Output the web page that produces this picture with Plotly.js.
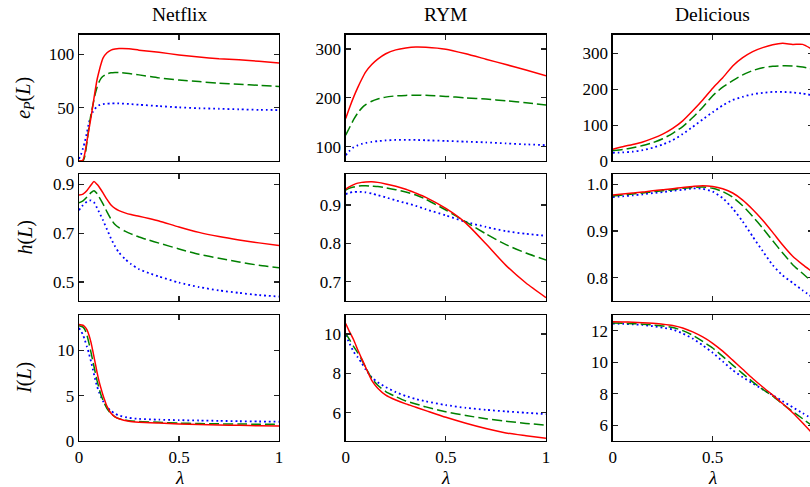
<!DOCTYPE html>
<html>
<head>
<meta charset="utf-8">
<script src="https://cdn.plot.ly/plotly-3.0.1.min.js"></script>
<style>
html,body{margin:0;padding:0;overflow:hidden;background:#fff;}
#chart{width:815px;height:487px;}
</style>
</head>
<body>
<div id="chart"></div>
<script>
// ---------- DATA ----------
const columnTitles = ['Netflix', 'RYM', 'Delicious'];
const rowLabels = ['<i>e</i><sub><i>P</i></sub>(<i>L</i>)', '<i>h</i>(<i>L</i>)', '<i>I</i>(<i>L</i>)'];
const xTickVals = [0, 0.5, 1];
const xTickText = ['0', '0.5', '1'];

// Netflix e_P(L)
const netflixEpX   = [0,0.01,0.02,0.03,0.04,0.05,0.06,0.07,0.08,0.09,0.1,0.11,0.12,0.14,0.16,0.18,0.2,0.25,0.3,0.4,0.5,0.6,0.7,0.8,0.9,1.0];
const netflixEpRed   = [0,0,1,8,19,30,41,53,65,76,84,91,96.5,101.5,104,105,105.5,105.3,104,102,99.5,97.5,96,95,93.5,92];
const netflixEpGreen = [0,0,0,5,18,32,44,53,62,69,74,77.5,79.5,81.8,82.7,83,83,82,80.8,78,76,74.5,73,72,71,70];
const netflixEpBlue  = [2,6,12,18.5,27,36,42,46.5,49,51,52.3,53,53.4,53.8,54,54,54,53.5,52.8,51.5,50.3,49.5,49,48.5,48,47.8];

// Netflix h(L)
const netflixHX     = [0,0.02,0.04,0.06,0.075,0.09,0.1,0.12,0.14,0.16,0.18,0.2,0.23,0.26,0.3,0.35,0.4,0.5,0.6,0.7,0.8,0.9,1.0];
const netflixHRed   = [0.856,0.86,0.875,0.897,0.911,0.9,0.89,0.865,0.838,0.815,0.801,0.792,0.783,0.776,0.769,0.76,0.75,0.725,0.703,0.686,0.672,0.66,0.649];
const netflixHGreen = [0.824,0.832,0.848,0.866,0.874,0.862,0.849,0.82,0.787,0.757,0.735,0.722,0.708,0.697,0.684,0.671,0.659,0.635,0.613,0.597,0.582,0.568,0.558];
const netflixHBlue  = [0.794,0.815,0.829,0.834,0.826,0.803,0.787,0.753,0.715,0.678,0.646,0.62,0.594,0.573,0.552,0.536,0.522,0.497,0.479,0.465,0.455,0.446,0.44];

// Netflix I(L)
const netflixIX     = [0,0.02,0.03,0.04,0.05,0.06,0.07,0.08,0.09,0.1,0.11,0.12,0.13,0.14,0.16,0.18,0.2,0.25,0.3,0.4,0.5,0.6,0.7,0.8,0.9,1.0];
const netflixIRed   = [12.9,12.8,12.6,12.3,11.7,10.9,9.85,8.75,7.6,6.6,5.8,5.05,4.4,3.8,3.05,2.65,2.44,2.15,2.05,1.95,1.86,1.8,1.74,1.7,1.66,1.62];
const netflixIGreen = [12.75,12.6,12.3,11.7,10.8,9.8,8.75,7.7,6.7,5.85,5.07,4.5,4.0,3.55,3.0,2.65,2.45,2.22,2.12,2.04,1.95,1.9,1.87,1.85,1.83,1.81];
const netflixIBlue  = [12.5,11.75,11.1,10.4,9.65,8.8,7.85,6.9,6.05,5.4,4.85,4.4,4.05,3.75,3.3,3.0,2.8,2.53,2.42,2.33,2.28,2.24,2.2,2.16,2.13,2.1];

// RYM
const rymX = [0,0.02,0.04,0.06,0.08,0.1,0.13,0.16,0.2,0.25,0.3,0.35,0.4,0.5,0.6,0.7,0.8,0.9,1.0];
const rymEpRed   = [158,181,202,221,238,253,268,279,290,298,302,304,303.5,299.5,290,279,268,257,245];
const rymEpGreen = [124,140,156,169,179,186,193,197.5,201.5,204,205,205.5,205.5,203,200,197.5,194,190,185.5];
const rymEpBlue  = [83,92,99,103,106,108,110,111.5,113,114,114,114,113.3,112,110.5,109,107,105,103.5];
const rymHRed    = [0.9415,0.948,0.953,0.957,0.959,0.96,0.9605,0.959,0.955,0.949,0.941,0.931,0.92,0.891,0.853,0.799,0.743,0.697,0.659];
const rymHGreen  = [0.939,0.944,0.947,0.949,0.95,0.95,0.949,0.948,0.945,0.94,0.934,0.926,0.915,0.887,0.856,0.825,0.797,0.775,0.757];
const rymHBlue   = [0.9286,0.932,0.934,0.9345,0.934,0.933,0.93,0.926,0.92,0.912,0.905,0.898,0.889,0.873,0.856,0.843,0.832,0.825,0.82];
const rymIRed    = [10.54,10.1,9.7,9.2,8.75,8.3,7.65,7.25,6.9,6.65,6.45,6.28,6.11,5.77,5.47,5.2,4.97,4.83,4.7];
const rymIGreen  = [10.04,9.7,9.36,9.05,8.7,8.3,7.75,7.4,7.08,6.82,6.6,6.45,6.3,6.05,5.86,5.7,5.57,5.46,5.37];
const rymIBlue   = [9.95,9.5,9.1,8.82,8.53,8.2,7.8,7.55,7.3,7.05,6.85,6.7,6.58,6.39,6.25,6.15,6.07,6.0,5.93];

// Delicious
const deliciousX = [0,0.05,0.1,0.15,0.2,0.25,0.3,0.35,0.4,0.45,0.5,0.55,0.6,0.65,0.7,0.75,0.8,0.85,0.9,0.95,1.0];
const deliciousEpRed   = [33,40,46,53,63,75,91,112,140,170,203,232,265,288,305,316,324,328,325,325,310];
const deliciousEpGreen = [29,32,37,43,51,62,77,96,121,150,182,206,224,240,252,260,264,265.5,265,262,256];
const deliciousEpBlue  = [23,24,26,30,37,46,58,75,95,116,136,155,170,179,186,190,192.5,192.5,191,188,183];
const deliciousHRed    = [0.977,0.979,0.981,0.983,0.986,0.988,0.99,0.993,0.995,0.9965,0.995,0.99,0.981,0.966,0.946,0.923,0.897,0.87,0.846,0.828,0.812];
const deliciousHGreen  = [0.9746,0.977,0.979,0.981,0.984,0.986,0.988,0.991,0.993,0.994,0.991,0.984,0.972,0.954,0.931,0.906,0.879,0.853,0.828,0.809,0.79];
const deliciousHBlue   = [0.9724,0.974,0.976,0.978,0.981,0.983,0.986,0.988,0.991,0.99,0.984,0.97,0.948,0.92,0.888,0.857,0.827,0.805,0.789,0.773,0.758];
const deliciousIRed    = [12.56,12.55,12.53,12.5,12.46,12.41,12.33,12.17,11.92,11.6,11.2,10.7,10.13,9.55,8.97,8.43,7.92,7.37,6.8,6.15,5.47];
const deliciousIGreen  = [12.49,12.47,12.44,12.41,12.36,12.29,12.2,12.0,11.71,11.32,10.9,10.37,9.82,9.28,8.76,8.28,7.85,7.35,6.88,6.42,5.95];
const deliciousIBlue   = [12.45,12.43,12.4,12.36,12.28,12.18,12.07,11.82,11.5,11.07,10.6,10.05,9.5,9.05,8.66,8.28,7.92,7.53,7.15,6.77,6.4];

// y tick values per panel (row-major)
const yTicks = [
  [0,50,100], [100,200,300], [0,100,200,300],
  [0.5,0.7,0.9], [0.7,0.8,0.9], [0.8,0.9,1.0],
  [0,5,10], [6,8,10], [6,8,10,12]
];
const yTickText = [
  ['0','50','100'], ['100','200','300'], ['0','100','200','300'],
  ['0.5','0.7','0.9'], ['0.7','0.8','0.9'], ['0.8','0.9','1.0'],
  ['0','5','10'], ['6','8','10'], ['6','8','10','12']
];

// panels: [x, red, green, blue]
const panelData = [
  [netflixEpX, netflixEpRed, netflixEpGreen, netflixEpBlue],
  [rymX, rymEpRed, rymEpGreen, rymEpBlue],
  [deliciousX, deliciousEpRed, deliciousEpGreen, deliciousEpBlue],
  [netflixHX, netflixHRed, netflixHGreen, netflixHBlue],
  [rymX, rymHRed, rymHGreen, rymHBlue],
  [deliciousX, deliciousHRed, deliciousHGreen, deliciousHBlue],
  [netflixIX, netflixIRed, netflixIGreen, netflixIBlue],
  [rymX, rymIRed, rymIGreen, rymIBlue],
  [deliciousX, deliciousIRed, deliciousIGreen, deliciousIBlue]
];

// ---------- LAYOUT / STYLE ----------
const W = 815, H = 487;
const colPx = [[79, 279], [345.7, 546], [612.7, 812.7]];
const rowPx = [[34.7, 161], [174.3, 300.7], [315, 440.7]];
const yRanges = [
  [0, 118.5], [71, 329], [0, 352],
  [0.423, 0.941], [0.651, 0.98], [0.751, 1.021],
  [0, 13.94], [4.58, 10.97], [5.03, 12.99]
];

const FONT = 'Liberation Serif, Times New Roman, serif';
const styles = [
  {color: '#0000ff', dash: '1.8px,3px', width: 1.8, idx: 3},
  {color: '#008000', dash: '10px,4px', width: 1.5, idx: 2},
  {color: '#ff0000', dash: 'solid', width: 1.5, idx: 1}
];

const traces = [];
const layout = {
  width: W, height: H, autosize: false,
  margin: {l: 0, r: 0, t: 0, b: 0},
  paper_bgcolor: '#ffffff', plot_bgcolor: '#ffffff',
  showlegend: false,
  font: {family: FONT, size: 17, color: '#000'},
  annotations: []
};

for (let p = 0; p < 9; p++) {
  const r = Math.floor(p / 3), c = p % 3;
  const n = p + 1;
  const sfx = (n === 1 ? '' : String(n));
  const d = panelData[p];
  styles.forEach(s => {
    traces.push({
      type: 'scatter', mode: 'lines',
      x: d[0], y: d[s.idx],
      xaxis: 'x' + sfx, yaxis: 'y' + sfx,
      line: {color: s.color, width: s.width, dash: s.dash, shape: 'spline', smoothing: 0.6},
      hoverinfo: 'skip'
    });
  });
  const common = {
    showline: true, mirror: 'ticks', linecolor: '#000', linewidth: 1.4,
    ticks: 'inside', ticklen: 5, tickwidth: 1.2, tickcolor: '#222',
    showgrid: false, zeroline: false, fixedrange: true,
    tickfont: {family: FONT, size: 17, color: '#000'}
  };
  layout['xaxis' + sfx] = Object.assign({}, common, {
    domain: [colPx[c][0] / W, colPx[c][1] / W],
    anchor: 'y' + sfx,
    range: [0, 1],
    tickmode: 'array', tickvals: xTickVals, ticktext: xTickText,
    showticklabels: r === 2
  });
  layout['yaxis' + sfx] = Object.assign({}, common, {
    domain: [1 - rowPx[r][1] / H, 1 - rowPx[r][0] / H],
    anchor: 'x' + sfx,
    range: yRanges[p],
    tickmode: 'array', tickvals: yTicks[p], ticktext: yTickText[p]
  });
}

// column titles and x labels
columnTitles.forEach((t, c) => {
  layout.annotations.push({
    text: t, xref: 'paper', yref: 'paper',
    x: (colPx[c][0] + colPx[c][1]) / 2 / W, y: 1 - 15 / H,
    xanchor: 'center', yanchor: 'middle', showarrow: false,
    font: {family: FONT, size: 19.5, color: '#000'}
  });
  layout.annotations.push({
    text: '<i>λ</i>', xref: 'paper', yref: 'paper',
    x: (colPx[c][0] + colPx[c][1]) / 2 / W, y: 1 - 477 / H,
    xanchor: 'center', yanchor: 'middle', showarrow: false,
    font: {family: FONT, size: 19, color: '#000'}
  });
});
// row labels
rowLabels.forEach((t, r) => {
  layout.annotations.push({
    text: t, xref: 'paper', yref: 'paper',
    x: 25 / W, y: 1 - ((rowPx[r][0] + rowPx[r][1]) / 2) / H,
    xanchor: 'center', yanchor: 'middle', showarrow: false, textangle: -90,
    font: {family: FONT, size: 20, color: '#000'}
  });
});

Plotly.newPlot('chart', traces, layout, {staticPlot: true, displayModeBar: false});
</script>
</body>
</html>
